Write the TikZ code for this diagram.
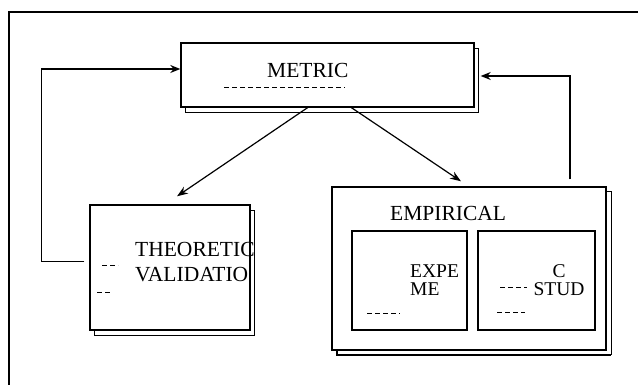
\documentclass[tikz,border=0pt]{standalone}
\usepackage{fontspec}
\setmainfont{Liberation Serif}
\usetikzlibrary{shadows,arrows.meta}
\begin{document}
\begin{tikzpicture}[x=1pt,y=-1pt,
  box/.style={draw,line width=1.4pt,fill=white,inner sep=0pt,
    copy shadow={shadow xshift=4pt,shadow yshift=-5pt,draw,line width=0.9pt,fill=white}},
  inbox/.style={draw,line width=1.1pt,fill=white,inner sep=0pt},
  bigtxt/.style={inner sep=0pt,font=\fontsize{21.5}{21.5}\selectfont,anchor=west},
  smtxt/.style={inner sep=0pt,font=\fontsize{19.5}{18}\selectfont},
  arr/.style={line width=1.2pt,-{Stealth[length=11pt,width=8pt]}},
  fb/.style={line width=1.3pt,-{Stealth[length=10pt,width=8pt]}},
  dashmark/.style={line width=1pt,dash pattern=on 5pt off 3pt}]
\useasboundingbox (0,0) rectangle (638,385);
\fill[white] (0,0) rectangle (638,385);
% outer frame
\draw[line width=1.5pt] (9,385) -- (9,12) -- (638,12);
% boxes
\node[box,minimum width=293pt,minimum height=64pt] (metric) at (327.5,75) {};
\node[box,minimum width=160pt,minimum height=125pt] (theo) at (170,267.5) {};
\node[box,minimum width=274pt,minimum height=163pt,
  copy shadow={shadow xshift=5pt,shadow yshift=-4pt,draw,line width=0.9pt,fill=white}] (emp) at (469,268.5) {};
\node[inbox,minimum width=115pt,minimum height=99pt] (expe) at (409.5,280.5) {};
\node[inbox,minimum width=117pt,minimum height=99pt] (case) at (536.5,280.5) {};
% texts
\node[bigtxt] (tmetric) at (267,70) {METRIC};
\node[bigtxt,align=left,font=\fontsize{21.5}{25}\selectfont] (ttheo) at (135,262) {THEORETIC\\VALIDATIO};
\node[bigtxt] (temp) at (390,213) {EMPIRICAL};
\node[smtxt,align=left,anchor=west] (texpe) at (410,280) {EXPE\\ME};
\node[smtxt,align=center] (tcase) at (559,280) {C\\STUD};
% small marks
\draw[dashmark] (224,88) -- (345,88);
\draw[dashmark] (102,266) -- (118,266);
\draw[dashmark] (97,292) -- (110,292);
\draw[dashmark] (367,313) -- (400,313);
\draw[dashmark] (500,287) -- (527,287);
\draw[dashmark] (497,312) -- (525,312);
% connectors
\draw[arr] ([xshift=-20pt]metric.south) -- ([xshift=7pt,yshift=8pt]theo.north);
\draw[arr] ([xshift=24pt]metric.south) -- ([xshift=-8pt,yshift=5pt]emp.north);
\draw[fb] ([xshift=-5pt,yshift=6pt]theo.west) -- ++(-43,0) |- ([yshift=6pt]metric.west);
\draw[fb] ([xshift=101pt,yshift=7pt]emp.north) |- ([xshift=6pt,yshift=-1pt]metric.east);
\end{tikzpicture}
\end{document}
